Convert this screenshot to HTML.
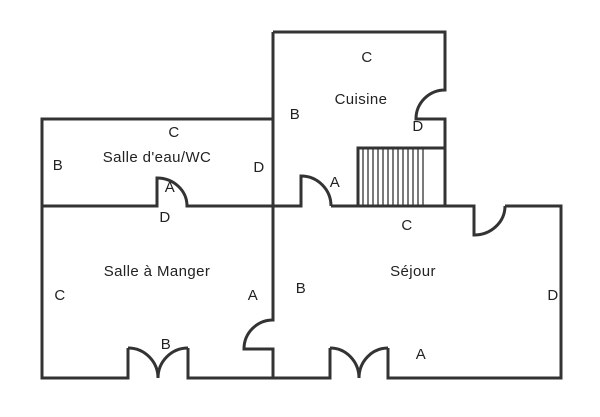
<!DOCTYPE html>
<html><head><meta charset="utf-8"><style>
html,body{margin:0;padding:0;background:#fff;}
svg{display:block;}
text{font-family:"Liberation Sans",sans-serif;font-size:15px;letter-spacing:0.4px;fill:#222;text-anchor:middle;dominant-baseline:middle;}
</style></head><body>
<svg width="600" height="417" viewBox="0 0 600 417" xmlns="http://www.w3.org/2000/svg">
<g fill="none" stroke="#333" stroke-width="3" stroke-linejoin="miter">
<path d="M273 119 H42 V378 H128 V348 M128 348 A30 30 0 0 1 158 378 M188 348 A30 30 0 0 0 158 378 M188 348 V378 H330 V348 M330 348 A29 30 0 0 1 359 378 M388 348 A29 30 0 0 0 359 378 M388 348 V378 H561 V206 H505"/>
<path d="M505 206 A31 29 0 0 1 474 235 V206 H331"/>
<path d="M42 206 H157 V178 A30 28 0 0 1 187 206 H301 V176 A30 30 0 0 1 331 206"/>
<path d="M273 32 V320 A29 29 0 0 0 244 349 H273 V378"/>
<path d="M273 32 H445 V90 A29 29 0 0 0 416 119 H445 V206"/>
<path d="M445 148 H358 V206"/>
</g>
<g stroke="#333" stroke-width="1.3">
<line x1="363" y1="148" x2="363" y2="206"/><line x1="368" y1="148" x2="368" y2="206"/>
<line x1="373" y1="148" x2="373" y2="206"/><line x1="378" y1="148" x2="378" y2="206"/>
<line x1="383" y1="148" x2="383" y2="206"/><line x1="388" y1="148" x2="388" y2="206"/>
<line x1="393" y1="148" x2="393" y2="206"/><line x1="398" y1="148" x2="398" y2="206"/>
<line x1="403" y1="148" x2="403" y2="206"/><line x1="408" y1="148" x2="408" y2="206"/>
<line x1="413" y1="148" x2="413" y2="206"/><line x1="418" y1="148" x2="418" y2="206"/>
<line x1="423" y1="148" x2="423" y2="206"/>
</g>
<text x="174" y="133">C</text>
<text x="157" y="158">Salle d'eau/WC</text>
<text x="58" y="166">B</text>
<text x="259" y="168">D</text>
<text x="170" y="188">A</text>
<text x="165" y="218">D</text>
<text x="367" y="58">C</text>
<text x="361" y="100">Cuisine</text>
<text x="295" y="115">B</text>
<text x="418" y="127">D</text>
<text x="335" y="183">A</text>
<text x="407" y="226">C</text>
<text x="413" y="272">Séjour</text>
<text x="157" y="272">Salle à Manger</text>
<text x="60" y="296">C</text>
<text x="253" y="296">A</text>
<text x="301" y="289">B</text>
<text x="553" y="296">D</text>
<text x="166" y="345">B</text>
<text x="421" y="355">A</text>
</svg>
</body></html>
